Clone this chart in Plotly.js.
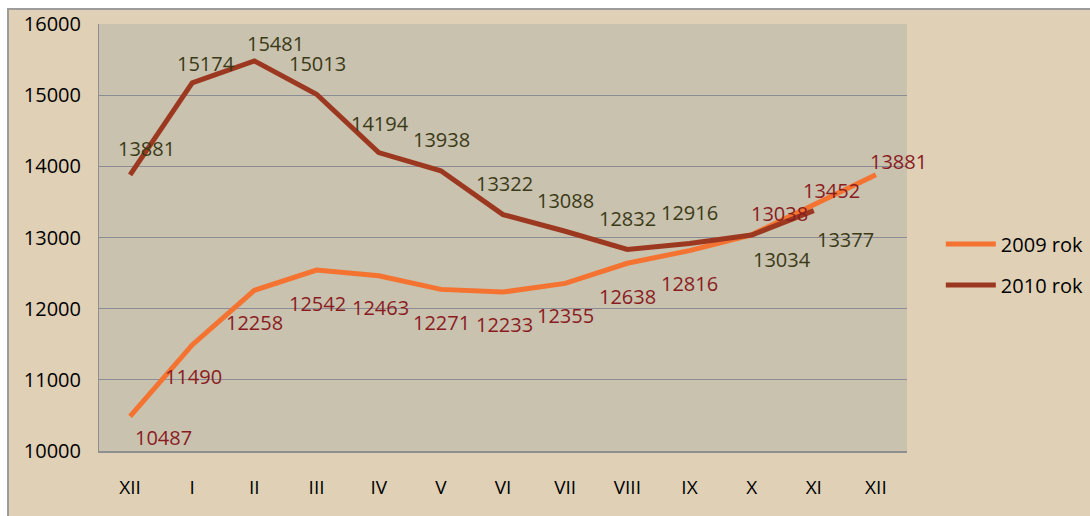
<!DOCTYPE html>
<html>
<head>
<meta charset="utf-8">
<script src="https://cdn.plot.ly/plotly-3.0.1.min.js"></script>
<style>
  html, body { margin: 0; padding: 0; background: #ffffff; width: 1090px; height: 516px; overflow: hidden; }
  #chart { position: absolute; left: 7px; top: 8px; width: 1081px; height: 506px;
           border-left: 2px solid #9c9c9c; border-top: 2px solid #9c9c9c; }
</style>
</head>
<body>
<div id="chart"></div>
<script>
// ---- data ----
const months = ['XII', 'I', 'II', 'III', 'IV', 'V', 'VI', 'VII', 'VIII', 'IX', 'X', 'XI', 'XII'];
const series2009Name = '2009 rok';
const series2010Name = '2010 rok';
const values2009 = [10487, 11490, 12258, 12542, 12463, 12271, 12233, 12355, 12638, 12816, 13038, 13452, 13881];
const values2010 = [13881, 15174, 15481, 15013, 14194, 13938, 13322, 13088, 12832, 12916, 13034, 13377];
const yTicks = [10000, 11000, 12000, 13000, 14000, 15000, 16000];

// ---- label offsets in pixels (style only) ----
const off2009 = [[33, 21], [1, 32], [0, 32], [1, 33], [2, 32], [1, 33], [1, 32], [0, 32], [0, 33], [0, 33], [28, -21], [18, -15], [23, -13]];
const off2010 = [[16, -26], [14, -19], [21, -17], [1, -31], [1, -29], [1, -31], [1, -31], [0, -31], [0, -31], [0, -31], [30, 24], [32, 29]];

const FONT = 'Open Sans, Noto Sans, sans-serif';
const C2009 = '#f47331';
const C2010 = '#9c3820';
const L2009 = '#8a1c1f';
const L2010 = '#3a3a17';

const xIdx = months.map((_, i) => i);

const traces = [
  {
    x: xIdx.slice(0, values2009.length), y: values2009, name: series2009Name,
    type: 'scatter', mode: 'lines', line: { color: C2009, width: 5 },
    legendgroup: 'a', hoverinfo: 'y'
  },
  {
    x: xIdx.slice(0, values2010.length), y: values2010, name: series2010Name,
    type: 'scatter', mode: 'lines', line: { color: C2010, width: 5 },
    legendgroup: 'b', hoverinfo: 'y'
  }
];

const annotations = [];
values2009.forEach((v, i) => annotations.push({
  x: xIdx[i], y: v, xref: 'x', yref: 'y', text: String(v), showarrow: false,
  xshift: off2009[i][0], yshift: -off2009[i][1],
  font: { family: FONT, size: 20, color: L2009 }
}));
values2010.forEach((v, i) => annotations.push({
  x: xIdx[i], y: v, xref: 'x', yref: 'y', text: String(v), showarrow: false,
  xshift: off2010[i][0], yshift: -off2010[i][1],
  font: { family: FONT, size: 20, color: L2010 }
}));

const layout = {
  width: 1081, height: 506,
  margin: { l: 90, r: 183, t: 14, b: 65, pad: 0, autoexpand: false },
  paper_bgcolor: '#dfd0b6',
  plot_bgcolor: '#c9c2af',
  font: { family: FONT, size: 20, color: '#000000' },
  showlegend: true,
  legend: {
    xref: 'container', x: 0.862, xanchor: 'left', y: 0.437, yanchor: 'middle',
    bgcolor: 'rgba(0,0,0,0)', font: { family: FONT, size: 20, color: '#000000' },
    tracegroupgap: 12, itemwidth: 50
  },
  xaxis: {
    range: [-0.5, 12.5], tickmode: 'array', tickvals: xIdx, ticktext: months,
    showgrid: false, zeroline: false, showline: true, linecolor: '#8f8f8f', linewidth: 2,
    ticks: '', ticklabelstandoff: 18, tickfont: { family: FONT, size: 19, color: '#000000' }
  },
  yaxis: {
    range: [10000, 16000], tickmode: 'array', tickvals: yTicks, ticktext: yTicks.map(String),
    showgrid: true, gridcolor: '#8c8c94', gridwidth: 1, zeroline: false,
    showline: true, linecolor: '#8f8f8f', linewidth: 1,
    ticks: '', ticklabelstandoff: 13, tickfont: { family: FONT, size: 20, color: '#000000' }
  },
  annotations: annotations
};

Plotly.newPlot('chart', traces, layout, { displayModeBar: false, staticPlot: true });
</script>
</body>
</html>
